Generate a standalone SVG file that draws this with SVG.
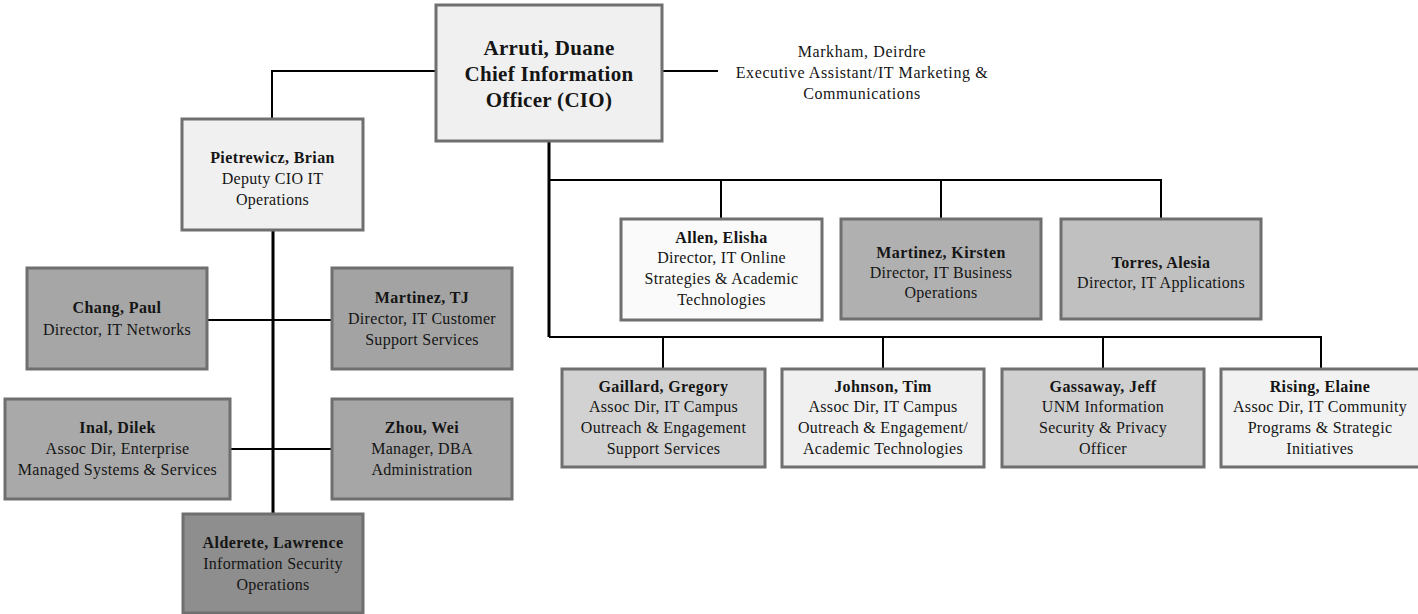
<svg xmlns="http://www.w3.org/2000/svg" width="1418" height="614" viewBox="0 0 1418 614">
  <style>
    .box { stroke: #6f6f6f; stroke-width: 3; }
    .name { font-family: "Liberation Serif", "Times New Roman", serif; font-weight: bold; font-size: 16px; letter-spacing: 0.4px; fill: #151515; text-anchor: middle; }
    .role { font-family: "Liberation Serif", "Times New Roman", serif; font-size: 16px; letter-spacing: 0.3px; fill: #151515; text-anchor: middle; }
    .big { font-family: "Liberation Serif", "Times New Roman", serif; font-weight: bold; font-size: 21px; letter-spacing: 0.3px; fill: #151515; text-anchor: middle; }
    .note { font-family: "Liberation Serif", "Times New Roman", serif; font-size: 16px; letter-spacing: 0.6px; fill: #151515; text-anchor: middle; }
    .link { fill: none; stroke: #000; stroke-width: 2; }
    .trunk { fill: none; stroke: #000; stroke-width: 3; }
  </style>
  <rect width="1418" height="614" fill="#fff"/>

  <!-- reporting lines -->
  <g id="connectors">
    <path class="link" d="M436 71 H272 V119"/>
    <path class="link" d="M662 71 H718"/>
    <path class="trunk" d="M273 230 V514"/>
    <path class="link" d="M207 320 H332"/>
    <path class="link" d="M230 449 H332"/>
    <path class="trunk" d="M549 141 V337"/>
    <path class="link" d="M549 180 H1161 V219"/>
    <path class="link" d="M721 180 V219"/>
    <path class="link" d="M941 180 V219"/>
    <path class="link" d="M549 337 H1321 V369"/>
    <path class="link" d="M663 337 V369"/>
    <path class="link" d="M883 337 V369"/>
    <path class="link" d="M1103 337 V369"/>
  </g>

  <g id="cio">
    <rect class="box" x="436" y="5" width="226" height="136" fill="#f0f0f0"/>
    <text class="big" x="549" y="55">Arruti, Duane</text>
    <text class="big" x="549" y="81">Chief Information</text>
    <text class="big" x="549" y="107">Officer (CIO)</text>
  </g>

  <g id="markham">
    <text class="note" x="862" y="57">Markham, Deirdre</text>
    <text class="note" x="862" y="78">Executive Assistant/IT Marketing &amp;</text>
    <text class="note" x="862" y="99">Communications</text>
  </g>

  <g id="pietrewicz">
    <rect class="box" x="182" y="119" width="181" height="111" fill="#f0f0f0"/>
    <text class="name" x="272.5" y="163">Pietrewicz, Brian</text>
    <text class="role" x="272.5" y="184">Deputy CIO IT</text>
    <text class="role" x="272.5" y="205">Operations</text>
  </g>

  <g id="chang">
    <rect class="box" x="27" y="268" width="180" height="101" fill="#a6a6a6"/>
    <text class="name" x="117" y="313">Chang, Paul</text>
    <text class="role" x="117" y="335">Director, IT Networks</text>
  </g>

  <g id="martinez-tj">
    <rect class="box" x="332" y="268" width="180" height="101" fill="#a3a3a3"/>
    <text class="name" x="422" y="303">Martinez, TJ</text>
    <text class="role" x="422" y="324">Director, IT Customer</text>
    <text class="role" x="422" y="345">Support Services</text>
  </g>

  <g id="inal">
    <rect class="box" x="5" y="399" width="225" height="100" fill="#a9a9a9"/>
    <text class="name" x="117.5" y="433">Inal, Dilek</text>
    <text class="role" x="117.5" y="454">Assoc Dir, Enterprise</text>
    <text class="role" x="117.5" y="475">Managed Systems &amp; Services</text>
  </g>

  <g id="zhou">
    <rect class="box" x="332" y="399" width="180" height="100" fill="#a6a6a6"/>
    <text class="name" x="422" y="433">Zhou, Wei</text>
    <text class="role" x="422" y="454">Manager, DBA</text>
    <text class="role" x="422" y="475">Administration</text>
  </g>

  <g id="alderete">
    <rect class="box" x="183" y="514" width="180" height="99" fill="#8e8e8e"/>
    <text class="name" x="273" y="548">Alderete, Lawrence</text>
    <text class="role" x="273" y="569">Information Security</text>
    <text class="role" x="273" y="590">Operations</text>
  </g>

  <g id="allen">
    <rect class="box" x="621" y="219" width="201" height="101" fill="#fafafa"/>
    <text class="name" x="721.5" y="243">Allen, Elisha</text>
    <text class="role" x="721.5" y="263">Director, IT Online</text>
    <text class="role" x="721.5" y="284">Strategies &amp; Academic</text>
    <text class="role" x="721.5" y="305">Technologies</text>
  </g>

  <g id="martinez-k">
    <rect class="box" x="841" y="219" width="200" height="100" fill="#b0b0b0"/>
    <text class="name" x="941" y="258">Martinez, Kirsten</text>
    <text class="role" x="941" y="278">Director, IT Business</text>
    <text class="role" x="941" y="298">Operations</text>
  </g>

  <g id="torres">
    <rect class="box" x="1061" y="219" width="200" height="100" fill="#c0c0c0"/>
    <text class="name" x="1161" y="268">Torres, Alesia</text>
    <text class="role" x="1161" y="288">Director, IT Applications</text>
  </g>

  <g id="gaillard">
    <rect class="box" x="562" y="369" width="203" height="98" fill="#d2d2d2"/>
    <text class="name" x="663.5" y="392">Gaillard, Gregory</text>
    <text class="role" x="663.5" y="412">Assoc Dir, IT Campus</text>
    <text class="role" x="663.5" y="433">Outreach &amp; Engagement</text>
    <text class="role" x="663.5" y="454">Support Services</text>
  </g>

  <g id="johnson">
    <rect class="box" x="782" y="369" width="202" height="98" fill="#f0f0f0"/>
    <text class="name" x="883" y="392">Johnson, Tim</text>
    <text class="role" x="883" y="412">Assoc Dir, IT Campus</text>
    <text class="role" x="883" y="433">Outreach &amp; Engagement/</text>
    <text class="role" x="883" y="454">Academic Technologies</text>
  </g>

  <g id="gassaway">
    <rect class="box" x="1002" y="369" width="202" height="98" fill="#d0d0d0"/>
    <text class="name" x="1103" y="392">Gassaway, Jeff</text>
    <text class="role" x="1103" y="412">UNM Information</text>
    <text class="role" x="1103" y="433">Security &amp; Privacy</text>
    <text class="role" x="1103" y="454">Officer</text>
  </g>

  <g id="rising">
    <rect class="box" x="1221" y="369" width="200" height="98" fill="#f2f2f2"/>
    <text class="name" x="1320" y="392">Rising, Elaine</text>
    <text class="role" x="1320" y="412">Assoc Dir, IT Community</text>
    <text class="role" x="1320" y="433">Programs &amp; Strategic</text>
    <text class="role" x="1320" y="454">Initiatives</text>
  </g>
</svg>
